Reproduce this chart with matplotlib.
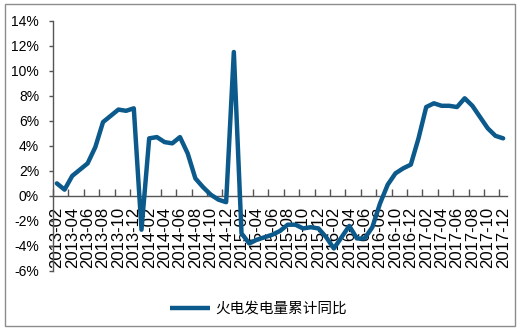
import matplotlib
matplotlib.use("Agg")
import matplotlib.pyplot as plt
from matplotlib import font_manager
from matplotlib.lines import Line2D
from matplotlib.patches import Rectangle
from matplotlib.ticker import FuncFormatter

# ---- data ----
months = [
    "2013-02", "2013-03", "2013-04", "2013-05", "2013-06", "2013-07", "2013-08", "2013-09", "2013-10", "2013-11", "2013-12",
    "2014-01", "2014-02", "2014-03", "2014-04", "2014-05", "2014-06", "2014-07", "2014-08", "2014-09", "2014-10", "2014-11", "2014-12",
    "2015-01", "2015-02", "2015-03", "2015-04", "2015-05", "2015-06", "2015-07", "2015-08", "2015-09", "2015-10", "2015-11", "2015-12",
    "2016-01", "2016-02", "2016-03", "2016-04", "2016-05", "2016-06", "2016-07", "2016-08", "2016-09", "2016-10", "2016-11", "2016-12",
    "2017-01", "2017-02", "2017-03", "2017-04", "2017-05", "2017-06", "2017-07", "2017-08", "2017-09", "2017-10", "2017-11", "2017-12",
]
values = [
    1.0, 0.5, 1.6, 2.1, 2.6, 3.9, 5.9, 6.4, 6.9, 6.8, 7.0,
    -2.7, 4.6, 4.7, 4.3, 4.2, 4.7, 3.4, 1.4, 0.7, 0.1, -0.3, -0.5,
    11.5, -3.0, -3.8, -3.5, -3.3, -3.1, -2.8, -2.3, -2.3, -2.6, -2.5, -2.6,
    -3.3, -4.2, -3.3, -2.4, -3.4, -3.4, -2.5, -0.6, 0.9, 1.8, 2.2, 2.5,
    4.6, 7.1, 7.4, 7.2, 7.2, 7.1, 7.8, 7.2, 6.3, 5.4, 4.8, 4.6,
]
series_name = "火电发电量累计同比"
y_ticks = [-6, -4, -2, 0, 2, 4, 6, 8, 10, 12, 14]

# ---- fonts ----
avail = {f.name for f in font_manager.fontManager.ttflist}
narrow = "Liberation Sans Narrow" if "Liberation Sans Narrow" in avail else None
ylab_font = dict(family=[narrow, "Liberation Sans"] if narrow else ["Liberation Sans"],
                 size=12 if narrow else 10)
xlab_font = dict(family=["Liberation Sans"], size=12)

color = "#0b5a8b"

W, H = 520, 330
fig = plt.figure(figsize=(W / 100, H / 100), dpi=100)
fig.patch.set_facecolor("white")

left, right = 53 / W, 507 / W
top, bottom = 1 - 20.7 / H, 1 - 271 / H
ax = fig.add_axes([left, bottom, right - left, top - bottom])

x = list(range(len(values)))
ax.plot(x, values, color=color, lw=3.2, solid_joinstyle="round", solid_capstyle="round", zorder=3)

ax.set_xlim(-0.5, len(values) - 0.5)
ax.set_ylim(-6, 14)

for s in ["top", "right"]:
    ax.spines[s].set_visible(False)
ax.spines["bottom"].set_position(("data", 0))
ax.spines["bottom"].set_color("#555555")
ax.spines["left"].set_color("#555555")
ax.spines["bottom"].set_linewidth(1.0)
ax.spines["left"].set_linewidth(1.0)

# y axis
ax.set_yticks(y_ticks)
ax.yaxis.set_major_formatter(FuncFormatter(lambda v, p: f"{int(v)}%"))
ax.tick_params(axis="y", direction="out", length=3, width=1, color="#555555", pad=7)
for lab in ax.get_yticklabels():
    lab.set_fontfamily(ylab_font["family"])
    lab.set_fontsize(ylab_font["size"])
    lab.set_color("#000000")

# x axis: labels every 2 months, tick marks at category boundaries
lab_idx = list(range(0, len(months), 2))
ax.set_xticks(lab_idx)
ax.set_xticklabels([months[i] for i in lab_idx], rotation=90, va="top", ha="center")
ax.set_xticks([i - 0.5 for i in range(0, len(months), 2)], minor=True)
ax.tick_params(axis="x", which="major", length=0, pad=8)
ax.tick_params(axis="x", which="minor", direction="in", length=5, width=1, color="#555555")
for lab in ax.get_xticklabels():
    lab.set_fontfamily(xlab_font["family"])
    lab.set_fontsize(xlab_font["size"])
    lab.set_color("#000000")

# legend
handle = Line2D([], [], color=color, lw=3.2, solid_capstyle="butt")
leg = fig.legend([handle], [series_name], loc="center", bbox_to_anchor=(258 / W, 1 - 309 / H),
                 frameon=False, handlelength=2.8, handletextpad=0.3, borderpad=0,
                 prop=dict(family=["Noto Sans CJK SC", "DejaVu Sans"], size=10.5))

# outer border
fig.add_artist(Rectangle((4.5 / W, 4.5 / H), 510 / W, 321.5 / H, transform=fig.transFigure,
                         fill=False, edgecolor="#8c8c8c", lw=1.0))

fig.savefig("out.png", dpi=100)
